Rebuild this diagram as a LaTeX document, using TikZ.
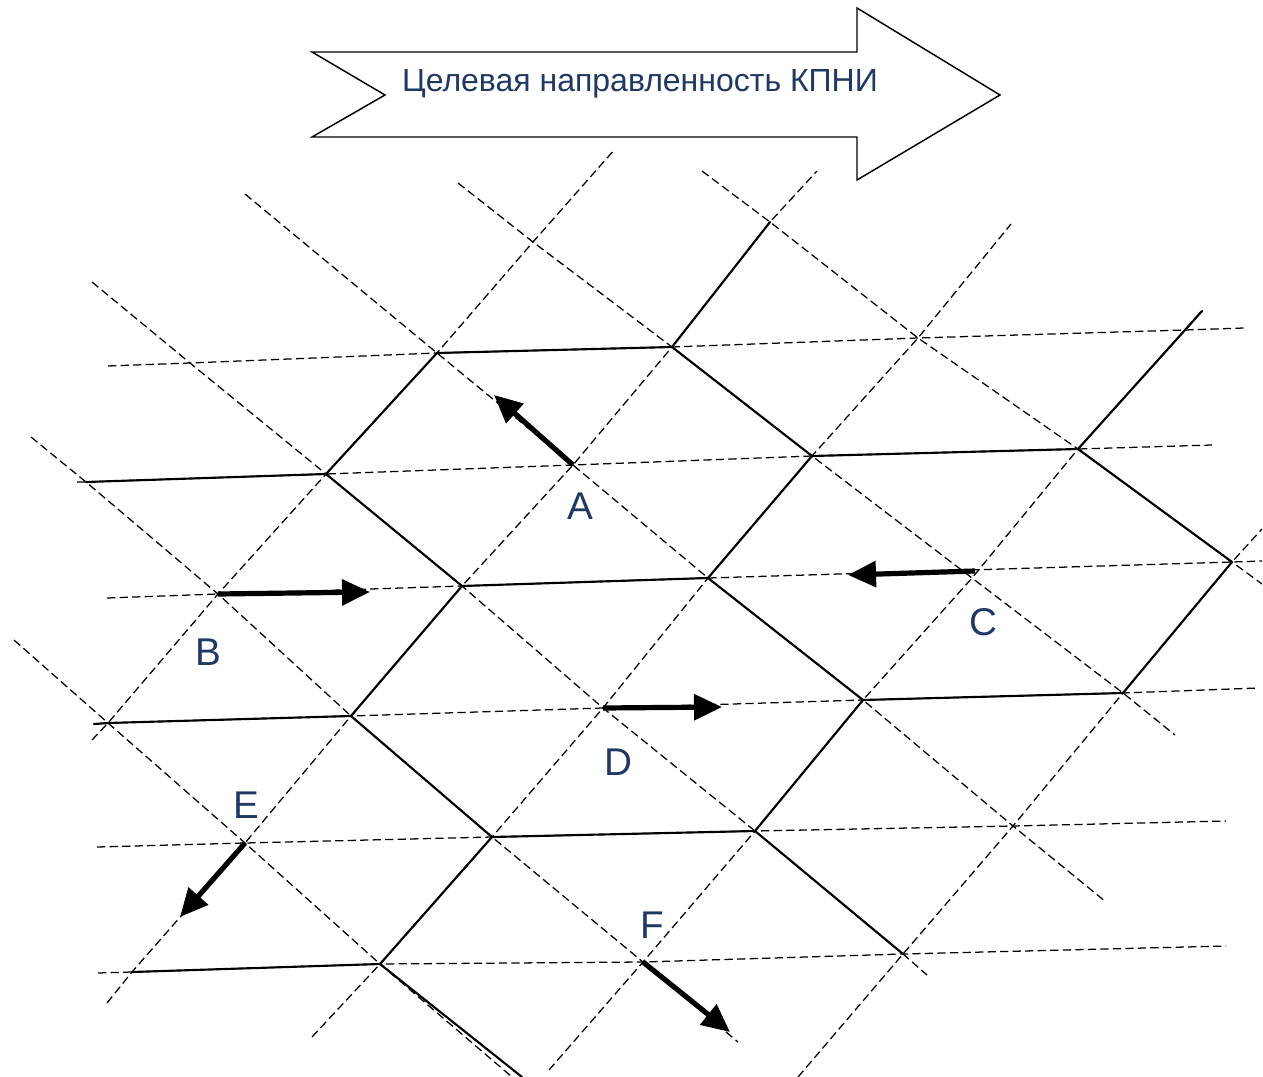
\documentclass[tikz,border=0pt]{standalone}
\usepackage{fontspec}
\setmainfont{Liberation Sans}
\usetikzlibrary{arrows.meta}
\definecolor{lbl}{RGB}{31,56,100}
\begin{document}
\begin{tikzpicture}[x=0.75pt,y=-0.75pt,
  gridline/.style={line width=0.95pt, dash pattern=on 6.2pt off 3.2pt},
  edgeline/.style={line width=1.6pt, line cap=round},
  move/.style={line width=3.9pt, -{Triangle[length=21pt,width=19pt]}},
  lab/.style={text=lbl, font=\fontsize{29}{34}\selectfont, inner sep=0pt},
  bigarrow/.style={line width=1.1pt, line join=miter, fill=white}
  ]
\path[use as bounding box] (0,0) rectangle (1263,1077);

% ---- title arrow ----
\coordinate (ar1) at (312,52);
\coordinate (ar2) at (857,52);
\coordinate (ar3) at (857,8);
\coordinate (ar4) at (1000,95);
\coordinate (ar5) at (857,180);
\coordinate (ar6) at (857,137);
\coordinate (ar7) at (312,137);
\coordinate (ar8) at (385,95);
\draw[bigarrow] (ar1) -- (ar2) -- (ar3) -- (ar4) -- (ar5) -- (ar6) -- (ar7) -- (ar8) -- cycle;
\node[text=lbl, font=\fontsize{24}{28}\selectfont, anchor=base, inner sep=0pt] (title) at (640,92) {Целевая направленность КПНИ};

% ---- lattice crossings ----
\coordinate (na)  at (533,242);
\coordinate (nt)  at (770,222);
\coordinate (n1z) at (190,363);
\coordinate (n1a) at (437,353);
\coordinate (n1b) at (672,347);
\coordinate (n1c) at (918,338);
\coordinate (n1d) at (1185,330);
\coordinate (n2s) at (86,482);
\coordinate (n2a) at (326,474);
\coordinate (n2A) at (573,465);
\coordinate (n2c) at (812,456);
\coordinate (n2d) at (1078,449);
\coordinate (n3B) at (218,594);
\coordinate (n3b) at (462,586);
\coordinate (n3c) at (708,578);
\coordinate (n3C) at (972,578);
\coordinate (n3e) at (1232,562);
\coordinate (n4a) at (108,723);
\coordinate (n4b) at (351,716);
\coordinate (n4D) at (603,708);
\coordinate (n4d) at (863,700);
\coordinate (n4e) at (1123,693);
\coordinate (n5E) at (245,843);
\coordinate (n5c) at (492,837);
\coordinate (n5d) at (755,831);
\coordinate (n5e) at (1013,826);
\coordinate (n6b) at (132,972);
\coordinate (n6c) at (380,964);
\coordinate (n6F) at (643,962);
\coordinate (n6e) at (903,954);

% ---- line end points ----
\coordinate (h1a) at (108,366);  \coordinate (h1b) at (1244,328);
\coordinate (h2a) at (77,482);   \coordinate (h2b) at (1212,445);
\coordinate (h3a) at (107,598);  \coordinate (h3b) at (1262,561);
\coordinate (h4a) at (94,724);   \coordinate (h4b) at (1258,688);
\coordinate (h5a) at (97,847);   \coordinate (h5b) at (1226,821);
\coordinate (h6a) at (98,973);   \coordinate (h6b) at (1226,946);
\coordinate (pa1) at (92,740);   \coordinate (pa2) at (615,149);
\coordinate (pb1) at (107,1003); \coordinate (pb2) at (817,171);
\coordinate (pc1) at (312,1037); \coordinate (pc2) at (1011,224);
\coordinate (pd1) at (549,1070); \coordinate (pd2) at (1202,311);
\coordinate (pe1) at (798,1077); \coordinate (pe2) at (1262,529);
\coordinate (q01) at (14,640);   \coordinate (q02) at (512,1077);
\coordinate (q0s) at (522,1077);
\coordinate (q11) at (31,437);   \coordinate (q12) at (738,1042);
\coordinate (q21) at (92,282);   \coordinate (q22) at (927,975);
\coordinate (q31) at (245,194);  \coordinate (q32) at (1106,902);
\coordinate (q41) at (458,183);  \coordinate (q42) at (1175,735);
\coordinate (q51) at (702,171);  \coordinate (q52) at (1262,584);

% ---- dashed lattice ----
\draw[gridline] (h1a) -- (n1z) -- (n1a) -- (n1b) -- (n1c) -- (n1d) -- (h1b);
\draw[gridline] (h2a) -- (n2s) -- (n2a) -- (n2A) -- (n2c) -- (n2d) -- (h2b);
\draw[gridline] (h3a) -- (n3B) -- (n3b) -- (n3c) -- (n3e) -- (h3b);
\draw[gridline] (h4a) -- (n4a) -- (n4b) -- (n4D) -- (n4d) -- (n4e) -- (h4b);
\draw[gridline] (h5a) -- (n5E) -- (n5c) -- (n5d) -- (n5e) -- (h5b);
\draw[gridline] (h6a) -- (n6b) -- (n6c) -- (n6F) -- (n6e) -- (h6b);
\draw[gridline] (pa1) -- (n4a) -- (n3B) -- (n2a) -- (n1a) -- (na) -- (pa2);
\draw[gridline] (pb1) -- (n6b) -- (n5E) -- (n4b) -- (n3b) -- (n2A) -- (n1b) -- (nt) -- (pb2);
\draw[gridline] (pc1) -- (n6c) -- (n5c) -- (n4D) -- (n3c) -- (n2c) -- (n1c) -- (pc2);
\draw[gridline] (pd1) -- (n6F) -- (n5d) -- (n4d) -- (n3C) -- (n2d) -- (n1d) -- (pd2);
\draw[gridline] (pe1) -- (n6e) -- (n5e) -- (n4e) -- (n3e) -- (pe2);
\draw[gridline] (q01) -- (n4a) -- (n5E) -- (n6c) -- (q02);
\draw[gridline] (q11) -- (n2s) -- (n3B) -- (n4b) -- (n5c) -- (n6F) -- (q12);
\draw[gridline] (q21) -- (n1z) -- (n2a) -- (n3b) -- (n4D) -- (n5d) -- (n6e) -- (q22);
\draw[gridline] (q31) -- (n1a) -- (n2A) -- (n3c) -- (n4d) -- (n5e) -- (q32);
\draw[gridline] (q41) -- (na) -- (n1b) -- (n2c) -- (n3C) -- (n4e) -- (q42);
\draw[gridline] (q51) -- (nt) -- (n1c) -- (n2d) -- (n3e) -- (q52);

% ---- solid honeycomb edges ----
\draw[edgeline] (n1a) -- (n1b);
\draw[edgeline] (n1b) -- (nt);
\draw[edgeline] (n2a) -- (n1a);
\draw[edgeline] (n2s) -- (n2a);
\draw[edgeline] (n2a) -- (n3b);
\draw[edgeline] (n1b) -- (n2c);
\draw[edgeline] (n2c) -- (n2d);
\draw[edgeline] (n2d) -- (n1d) -- (pd2);
\draw[edgeline] (n2d) -- (n3e);
\draw[edgeline] (n3e) -- (n4e);
\draw[edgeline] (n4d) -- (n4e);
\draw[edgeline] (n3c) -- (n2c);
\draw[edgeline] (n3b) -- (n3c);
\draw[edgeline] (n3c) -- (n4d);
\draw[edgeline] (n3b) -- (n4b);
\draw[edgeline] (h4a) -- (n4a) -- (n4b);
\draw[edgeline] (n4b) -- (n5c);
\draw[edgeline] (n4d) -- (n5d);
\draw[edgeline] (n5c) -- (n5d);
\draw[edgeline] (n5c) -- (n6c);
\draw[edgeline] (n6b) -- (n6c);
\draw[edgeline] (n6c) -- (q0s);
\draw[edgeline] (n5d) -- (n6e);

% ---- movement arrows ----
\coordinate (cC)   at (975,571);
\coordinate (tipA) at (494,395);
\coordinate (tipB) at (370,592);
\coordinate (tipC) at (848,575);
\coordinate (tipD) at (722,707);
\coordinate (tipE) at (180,917);
\coordinate (tipF) at (730,1032);
\draw[move] (n2A) -- (tipA);
\draw[move] (n3B) -- (tipB);
\draw[move] (cC) -- (tipC);
\draw[move] (n4D) -- (tipD);
\draw[move] (n5E) -- (tipE);
\draw[move] (n6F) -- (tipF);

% ---- labels ----
\node[lab] (la) at (580,506) {A};
\node[lab] (lb) at (208,652) {B};
\node[lab] (lc) at (983,622) {C};
\node[lab] (ld) at (618,762) {D};
\node[lab] (le) at (246,805) {E};
\node[lab] (lf) at (652,925) {F};
\end{tikzpicture}
\end{document}
